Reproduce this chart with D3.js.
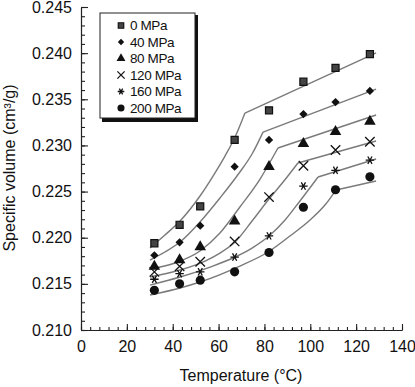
<!DOCTYPE html>
<html>
<head>
<meta charset="utf-8">
<script src="https://cdn.jsdelivr.net/npm/d3@7"></script>
<style>
  body { margin: 0; background: #fff; }
  svg { font-family: "Liberation Sans", Arial, sans-serif; }
</style>
</head>
<body>
<svg width="415" height="387"></svg>
<script>
// measured points
var temps = [32, 43, 52, 67, 82, 97, 111, 126];
var pressures = ["0 MPa", "40 MPa", "80 MPa", "120 MPa", "160 MPa", "200 MPa"];
var vol0   = [0.2194, 0.2214, 0.2234, 0.2306, 0.2338, 0.2369, 0.2384, 0.2399];
var vol40  = [0.2181, 0.2195, 0.2213, 0.2277, 0.2306, 0.2334, 0.2347, 0.2359];
var vol80  = [0.2169, 0.2176, 0.2190, 0.2218, 0.2277, 0.2302, 0.2315, 0.2326];
var vol120 = [0.2163, 0.2169, 0.2174, 0.2196, 0.2244, 0.2278, 0.2295, 0.2304];
var vol160 = [0.2155, 0.2161, 0.2163, 0.2179, 0.2202, 0.2256, 0.2273, 0.2284];
var vol200 = [0.2143, 0.2150, 0.2154, 0.2163, 0.2184, 0.2233, 0.2252, 0.2266];

// fitted lines: curved part up to the kink, then straight to the end
var fit0   = [[30.1,0.21888],[36.6,0.22029],[43.2,0.22181],[51.9,0.22452],[58.4,0.22701],[62.8,0.22885],[67.2,0.23091],[71.5,0.23351]];
var fit40  = [[30.1,0.21758],[36.6,0.21845],[43.2,0.21953],[51.9,0.22170],[60.6,0.22430],[69.3,0.22712],[74.6,0.22907],[79.4,0.23145]];
var fit80  = [[30.1,0.21661],[41.0,0.21726],[51.9,0.21856],[60.6,0.22051],[69.3,0.22333],[78.1,0.22636],[85.9,0.22972]];
var fit120 = [[30.1,0.21574],[43.2,0.21650],[54.1,0.21747],[60.6,0.21834],[67.2,0.21953],[74.6,0.22181],[82.0,0.22419],[88.5,0.22614],[94.6,0.22810]];
var fit160 = [[30.1,0.21487],[43.2,0.21574],[56.3,0.21682],[67.2,0.21791],[74.6,0.21888],[82.0,0.22018],[89.0,0.22192],[95.5,0.22398],[103.4,0.22658]];
var fit200 = [[30.1,0.21379],[43.2,0.21455],[51.9,0.21520],[69.3,0.21693],[81.6,0.21845],[91.1,0.22018],[99.9,0.22192],[106.4,0.22354],[111.2,0.22517]];
var fitEnd = [[128.7,0.24002],[128.7,0.23611],[128.7,0.23330],[128.7,0.23048],[128.7,0.22853],[128.7,0.22614]];

var xTicks = [0, 20, 40, 60, 80, 100, 120, 140];
var yTicks = [0.210, 0.215, 0.220, 0.225, 0.230, 0.235, 0.240, 0.245];

var series = [vol0, vol40, vol80, vol120, vol160, vol200];
var fits = [fit0, fit40, fit80, fit120, fit160, fit200];
// diamond = square turned 45 degrees
var symbols = [d3.symbolSquare, d3.symbolSquare, d3.symbolTriangle, d3.symbolTimes, d3.symbolAsterisk, d3.symbolCircle];
var sizes = [50, 34, 58, 60, 50, 66];

var svg = d3.select("svg");

var x = d3.scaleLinear().domain([0, 140]).range([81, 402]);
var y = d3.scaleLinear().domain([0.210, 0.245]).range([330, 7]);

// minor ticks first
svg.append("g")
  .attr("transform", "translate(0,330)")
  .call(d3.axisBottom(x).tickValues(d3.range(0, 141, 4)).tickSizeInner(-3).tickSizeOuter(0).tickFormat(""));
svg.append("g")
  .attr("transform", "translate(81,0)")
  .call(d3.axisLeft(y).tickValues(d3.range(0, 36).map(function(i) { return 0.210 + i * 0.001; })).tickSizeInner(-4).tickSizeOuter(0).tickFormat(""));

var xAxis = svg.append("g")
  .attr("transform", "translate(0,330)")
  .call(d3.axisBottom(x).tickValues(xTicks).tickSizeInner(-6).tickSizeOuter(0).tickPadding(11));
var yAxis = svg.append("g")
  .attr("transform", "translate(81,0)")
  .call(d3.axisLeft(y).tickValues(yTicks).tickSizeInner(-7).tickSizeOuter(0).tickPadding(9).tickFormat(d3.format(".3f")));

svg.selectAll(".domain, .tick line").attr("stroke", "#222").attr("stroke-width", 1.1);
svg.selectAll(".tick text").attr("font-size", 16).attr("font-family", "Liberation Sans, Arial, sans-serif").attr("fill", "#111");

// titles
svg.append("text")
  .attr("x", 241).attr("y", 381)
  .attr("text-anchor", "middle")
  .attr("font-size", 16).attr("fill", "#111")
  .text("Temperature (°C)");
svg.append("text")
  .attr("transform", "translate(15,168) rotate(-90)")
  .attr("text-anchor", "middle")
  .attr("font-size", 16).attr("fill", "#111")
  .text("Specific volume (cm³/g)");

// fitted lines
var line = d3.line()
  .x(function(d) { return x(d[0]); })
  .y(function(d) { return y(d[1]); });
var curve = d3.line()
  .curve(d3.curveMonotoneX)
  .x(function(d) { return x(d[0]); })
  .y(function(d) { return y(d[1]); });

fits.forEach(function(f, i) {
  svg.append("path")
    .attr("d", curve(f))
    .attr("fill", "none").attr("stroke", "#7a7a7a").attr("stroke-width", 1.4);
  svg.append("path")
    .attr("d", line([f[f.length - 1], fitEnd[i]]))
    .attr("fill", "none").attr("stroke", "#7a7a7a").attr("stroke-width", 1.4);
});

// markers
function drawMark(g, i, px, py, s) {
  var stroked = (i == 3 || i == 4);
  var rot = i == 4 ? " rotate(90)" : (i == 1 ? " rotate(45)" : "");
  g.append("path")
    .attr("transform", "translate(" + px + "," + py + ")" + rot)
    .attr("d", d3.symbol().type(symbols[i]).size(s)())
    .attr("fill", stroked ? "none" : (i == 0 ? "#444" : "#111"))
    .attr("stroke", "#111")
    .attr("stroke-width", stroked ? 1.3 : (i == 0 ? 1.2 : 0));
}

series.forEach(function(vals, i) {
  vals.forEach(function(v, j) {
    drawMark(svg, i, x(temps[j]), y(v), sizes[i]);
  });
});

// legend
var leg = svg.append("g");
leg.append("rect").attr("x", 102).attr("y", 15).attr("width", 96).attr("height", 107).attr("fill", "#111");
leg.append("rect").attr("x", 100).attr("y", 13).attr("width", 95).attr("height", 105)
  .attr("fill", "#fff").attr("stroke", "#222").attr("stroke-width", 1);

pressures.forEach(function(p, i) {
  var ly = 25.5 + i * 16.5;
  drawMark(leg, i, 121, ly, sizes[i] * 0.6);
  leg.append("text")
    .attr("x", 130).attr("y", ly).attr("dy", "0.35em")
    .attr("font-size", 13.5).attr("letter-spacing", -0.4).attr("fill", "#111")
    .text(p);
});
</script>
</body>
</html>
